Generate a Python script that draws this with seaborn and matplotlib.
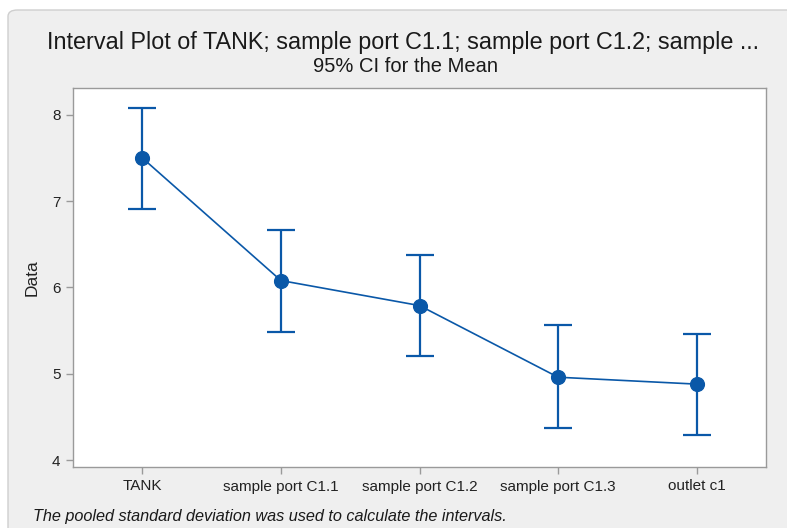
import matplotlib
matplotlib.use("Agg")
import matplotlib.pyplot as plt
from matplotlib.patches import FancyBboxPatch
import seaborn as sns
import pandas as pd

# --------------------------------------------------
# DATA
# --------------------------------------------------

groups = ["TANK", "sample port C1.1", "sample port C1.2",
          "sample port C1.3", "outlet c1"]
means = [7.50, 6.08, 5.79, 4.96, 4.88]
ci_low = [6.91, 5.48, 5.20, 4.37, 4.29]
ci_high = [8.08, 6.67, 6.38, 5.56, 5.46]
y_ticks = [4, 5, 6, 7, 8]

df = pd.DataFrame({"group": groups, "mean": means,
                   "low": ci_low, "high": ci_high})

blue = "#0A58A8"
grey = "#9a9a9a"

sns.set_theme(style="white")
plt.rcParams["font.family"] = ["Liberation Sans", "DejaVu Sans"]

fig = plt.figure(figsize=(7.87, 5.28), dpi=100)
fig.patch.set_facecolor("white")

# grey Minitab-style panel behind everything
panel = FancyBboxPatch(
    (8 / 787, -0.05), 1.2, (528 - 10) / 528 + 0.05,
    boxstyle="round,pad=0,rounding_size=0.012",
    transform=fig.transFigure, facecolor="#efefef",
    edgecolor="#cfcfcf", linewidth=1.0, zorder=-10
)
fig.patches.append(panel)

ax = fig.add_axes([73 / 787, 1 - 467 / 528, (766 - 73) / 787, (467 - 88) / 528])
ax.set_facecolor("white")

sns.pointplot(
    data=df, x="group", y="mean", order=groups,
    color=blue, errorbar=None, markers="o",
    markersize=10, linewidth=1.2, ax=ax
)

yerr = [df["mean"] - df["low"], df["high"] - df["mean"]]
ax.errorbar(
    range(len(groups)), df["mean"], yerr=yerr,
    fmt="none", ecolor=blue, elinewidth=1.6,
    capsize=10, capthick=1.6, zorder=3
)

ax.set_xlim(-0.5, len(groups) - 0.5)
ax.set_ylim(3.92, 8.31)
ax.set_yticks(y_ticks)
ax.set_xlabel("")
ax.set_ylabel("Data", fontsize=12.5, color="#222222", labelpad=9)

for side in ["left", "bottom", "top", "right"]:
    ax.spines[side].set_visible(True)
    ax.spines[side].set_color(grey)
    ax.spines[side].set_linewidth(1.0)

ax.tick_params(axis="both", which="major", length=5, width=1,
               color=grey, labelsize=11, labelcolor="#222222",
               left=True, bottom=True, pad=4)

fig.text(0.512, 1 - 42 / 528,
         "Interval Plot of TANK; sample port C1.1; sample port C1.2; sample ...",
         ha="center", va="center", fontsize=16.8, color="#1a1a1a")
fig.text(0.515, 1 - 66 / 528, "95% CI for the Mean",
         ha="center", va="center", fontsize=14.5, color="#1a1a1a")
fig.text(33 / 787, 1 - 517 / 528,
         "The pooled standard deviation was used to calculate the intervals.",
         ha="left", va="center", fontsize=11.7, style="italic",
         color="#1a1a1a")

plt.savefig("out.png", dpi=100)
plt.close()
